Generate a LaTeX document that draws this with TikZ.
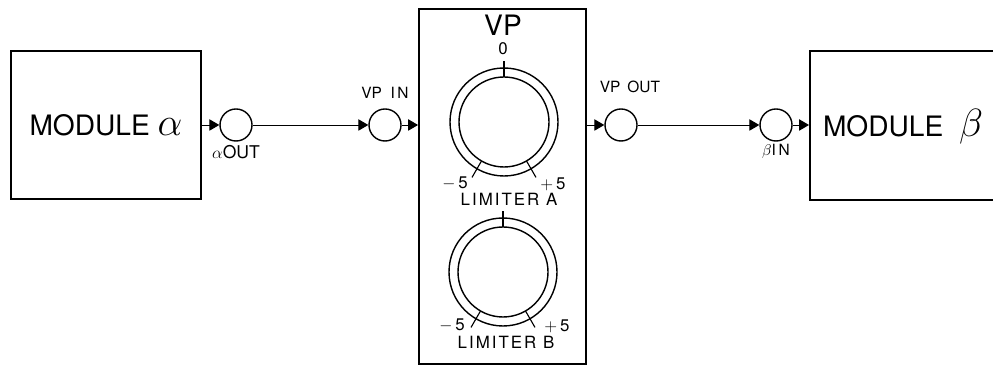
\documentclass[tikz,border=0pt]{standalone}
\usepackage{fontspec}
\setmainfont{TeX Gyre Heros}
\usepackage{tikz}
\usetikzlibrary{calc, positioning, arrows.meta}

\tikzset{
  module/.style={draw, line width=1.3pt, font=\fontsize{20}{22}\selectfont},
  jack/.style={circle, draw, line width=1pt, minimum size=0.8cm, inner sep=0pt},
  lbl/.style={font=\fontsize{11}{12}\selectfont, inner sep=0pt},
  scl/.style={font=\fontsize{12}{13}\selectfont, inner sep=0pt},
  sig/.style={line width=0.7pt, -{Triangle[length=7pt, width=8pt]}},
}
\newcommand{\biggreek}[1]{\scalebox{1.35}{$#1$}}

\begin{document}
\begin{tikzpicture}[x=0.025cm, y=0.025cm]
  \clip (0,0) rectangle (993,367);

  % Modules
  \node[module, minimum width=4.75cm, minimum height=3.7cm] (modA) at (106,242) {MODULE \biggreek{\alpha}};
  \node[module, minimum width=5.025cm, minimum height=3.725cm, anchor=west] (modB) at (809,241.5) {};
  \node[font=\fontsize{20}{22}\selectfont] (modBtxt) at (903,240) {MODULE \ \biggreek{\beta}};

  % Jacks
  \node[jack] (aout) at (236,242) {};
  \node[jack] (vpin) at (385,242) {};
  \node[jack] (vpout) at (621,242) {};
  \node[jack] (bin) at (776,242) {};
  \node[lbl, font=\fontsize{12.5}{13}\selectfont] (aoutlbl) at (236,215) {$\alpha$OUT};
  \node[lbl] (vpinlbl) at (385,274) {VP \ I\,N};
  \node[lbl] (vpoutlbl) at (630,280) {VP \,OUT};
  \node[lbl] (binlbl) at (776,216) {$\beta$I\,N};

  % VP panel
  \node[draw, line width=1.3pt, minimum width=4.175cm, minimum height=8.875cm] (vp) at (502.5,180.5) {};
  \node[font=\fontsize{20}{22}\selectfont] (vptitle) at (503,342) {VP};
  \node[scl] (zero) at (503,318) {0};

  \coordinate (knobA) at (504,245);
  \coordinate (knobB) at (503,95);
  \foreach \k in {knobA, knobB} {
    \draw[line width=1pt] (\k) circle[radius=54];
    \draw[line width=1pt] (\k) circle[radius=45];
    \draw[line width=0.8pt] (\k) ++(90:45) -- ++(90:16);
    \draw[line width=0.8pt] (\k) ++(240:45) -- ++(240:19);
    \draw[line width=0.8pt] (\k) ++(300:45) -- ++(300:19);
  }
  \node[scl] (minA) at (455,184) {$-$\,5};
  \node[scl] (plusA) at (553,183) {$+$\,5};
  \node[font=\fontsize{12}{14}\selectfont\addfontfeatures{LetterSpace=12}] (limA) at (509,168) {LIMITER A};
  \node[scl] (minB) at (452,42) {$-$\,5};
  \node[scl] (plusB) at (557,41) {$+$\,5};
  \node[font=\fontsize{12}{14}\selectfont\addfontfeatures{LetterSpace=12}] (limB) at (506,25) {LIMITER B};

  % Signal path
  \draw[sig] (modA.east) -- (aout.west);
  \draw[sig] (aout.east) -- (vpin.west);
  \draw[sig] (vpin.east) -- (vpin -| vp.west);
  \draw[sig] (vpout -| vp.east) -- (vpout.west);
  \draw[sig] (vpout.east) -- (bin.west);
  \draw[sig] (bin.east) -- (bin -| modB.west);
\end{tikzpicture}
\end{document}
